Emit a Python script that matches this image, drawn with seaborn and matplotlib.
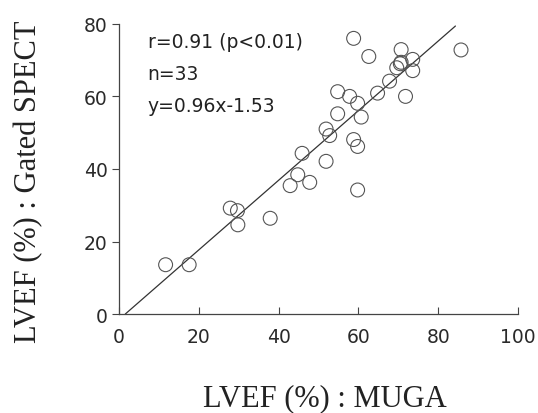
import matplotlib
matplotlib.use("Agg")
import matplotlib.pyplot as plt
import seaborn as sns
import numpy as np
import pandas as pd

# LVEF values (MUGA vs gated SPECT)
muga = [11.7, 17.6, 27.9, 29.7, 29.8, 37.9, 42.9, 44.8, 47.8, 45.9,
        51.9, 52.8, 51.9, 54.8, 60.7, 58.8, 59.8, 59.8, 54.8, 57.8,
        59.8, 64.8, 71.8, 67.8, 69.6, 70.7, 70.5, 73.6, 73.6, 70.7,
        62.6, 58.8, 85.7]
spect = [13.6, 13.6, 29.2, 28.5, 24.6, 26.4, 35.4, 38.4, 36.3, 44.3,
         42.1, 49.2, 51.0, 55.2, 54.3, 48.1, 46.2, 34.2, 61.3, 60.0,
         58.1, 60.9, 60.0, 64.2, 67.9, 69.4, 69.0, 67.1, 70.2, 72.9,
         71.0, 76.0, 72.8]

# fitted line y = 0.96x - 1.53, drawn over the span seen in the picture
slope = 0.96
intercept = -1.53
fit_x = np.array([1.6, 84.3])

stats_lines = ["r=0.91 (p<0.01)", "n=33", "y=0.96x-1.53"]
x_ticks = [0, 20, 40, 60, 80, 100]
y_ticks = [0, 20, 40, 60, 80]

df = pd.DataFrame({"muga": muga, "spect": spect})

sns.set_style("ticks")
plt.rcParams["font.family"] = ["DejaVu Sans"]

fig = plt.figure(figsize=(5.38, 4.14), dpi=100)
ax = fig.add_axes([0.221, 0.239, 0.742, 0.701])

ax.plot(fit_x, slope * fit_x + intercept, color="#333333", lw=0.9, zorder=2)
sns.scatterplot(data=df, x="muga", y="spect", ax=ax, s=100,
                facecolor="none", edgecolor="#555555", linewidth=0.8,
                zorder=3, legend=False)

ax.set_xlim(0, 100)
ax.set_ylim(0, 80)
ax.set_xticks(x_ticks)
ax.set_yticks(y_ticks)
ax.tick_params(axis="both", labelsize=13.5, colors="#444444", labelcolor="#2a2a2a")
ax.tick_params(axis="x", direction="in", length=5, width=0.8, pad=9)
ax.tick_params(axis="y", direction="out", length=5, width=0.8, pad=3)

sns.despine(ax=ax)
for side in ["left", "bottom"]:
    ax.spines[side].set_color("#444444")
    ax.spines[side].set_linewidth(0.9)

ax.set_xlabel("LVEF (%) : MUGA", family="Liberation Serif", fontsize=22,
              color="#222222")
ax.set_ylabel("LVEF (%) : Gated SPECT", family="Liberation Serif", fontsize=22,
              color="#222222")
ax.xaxis.set_label_coords(0.515, -0.24)
ax.yaxis.set_label_coords(-0.19, 0.46)

for i, line in enumerate(stats_lines):
    ax.text(7.2, 73.6 - i * 8.8, line, fontsize=13.5, color="#222222")

fig.savefig("out.png", dpi=100)
